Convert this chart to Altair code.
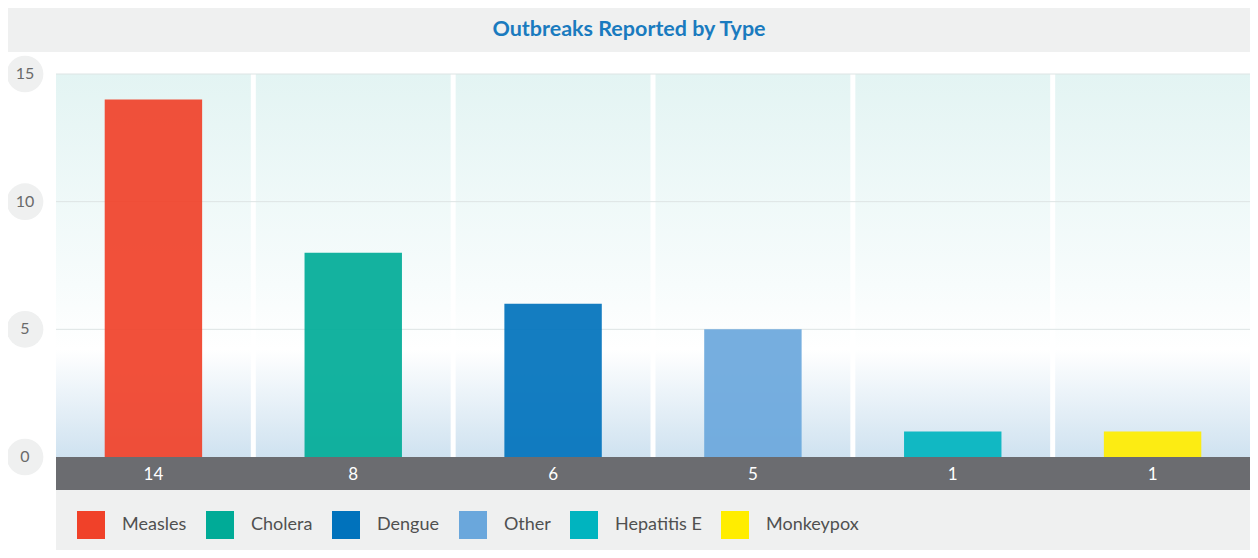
import altair as alt
import pandas as pd

# ---- data ----
categories = ["Measles", "Cholera", "Dengue", "Other", "Hepatitis E", "Monkeypox"]
counts = [14, 8, 6, 5, 1, 1]
colors = ["#f04129", "#00ab97", "#0072bc", "#6aa7dc", "#00b4bf", "#ffed00"]
y_ticks = [0, 5, 10, 15]
grid_ticks = [5, 10, 15]
chart_title = "Outbreaks Reported by Type"

W = 1194
H = 383
FONT = "Lato"

df = pd.DataFrame({"cat": categories, "value": counts})
ticks_df = pd.DataFrame({"tick": y_ticks})
grid_df = pd.DataFrame({"tick": grid_ticks})
title_df = pd.DataFrame({"t": [chart_title]})

x_enc = alt.X("cat:N", sort=categories, axis=None,
              scale=alt.Scale(paddingInner=0.025, paddingOuter=0))
y_scale = alt.Scale(domain=[0, 15], nice=False, zero=True)

base = alt.Chart(df)

# gradient backgrounds per category band
bg = base.mark_rect(
    color=alt.LinearGradient(
        gradient="linear",
        x1=0, x2=0, y1=0, y2=1,
        stops=[
            alt.GradientStop(color="#e3f4f3", offset=0),
            alt.GradientStop(color="#f7fcfc", offset=0.55),
            alt.GradientStop(color="#ffffff", offset=0.72),
            alt.GradientStop(color="#cfe2f0", offset=1),
        ],
    )
).encode(x=x_enc, y=alt.value(0), y2=alt.value(H))

# gridlines
grid = alt.Chart(grid_df).mark_rule(color="#dde4e4", strokeWidth=1).encode(
    y=alt.Y("tick:Q", scale=y_scale, axis=None),
    x=alt.value(0), x2=alt.value(W),
)

# bars
bars = base.mark_bar(width=alt.RelativeBandSize(0.5), opacity=0.92).encode(
    x=x_enc,
    y=alt.Y("value:Q", scale=y_scale, axis=None),
    color=alt.Color(
        "cat:N",
        sort=categories,
        scale=alt.Scale(domain=categories, range=colors),
        legend=alt.Legend(
            title=None,
            orient="none",
            legendX=21,
            legendY=437,
            direction="horizontal",
            symbolType="square",
            symbolSize=784,
            symbolStrokeWidth=0,
            symbolOpacity=1,
            labelFont=FONT,
            labelFontSize=18,
            labelColor="#505050",
            labelOffset=17,
            columnPadding=19,
            padding=0,
        ),
    ),
)

# dark x band
xband = alt.Chart(title_df).mark_rect(color="#6b6c70").encode(
    x=alt.value(0), x2=alt.value(W), y=alt.value(H), y2=alt.value(H + 33)
)

# x labels (values)
xlabels = base.mark_text(color="white", fontSize=17, font=FONT, baseline="middle").encode(
    x=x_enc, y=alt.value(H + 18), text="value:Q"
)

# legend band
legend_band = alt.Chart(title_df).mark_rect(color="#eff0f0").encode(
    x=alt.value(0), x2=alt.value(W), y=alt.value(H + 33), y2=alt.value(H + 93)
)

# title band + title text
title_band = alt.Chart(title_df).mark_rect(color="#eff0f0").encode(
    x=alt.value(-48), x2=alt.value(W), y=alt.value(-66), y2=alt.value(-22)
)
title_text = alt.Chart(title_df).mark_text(
    color="#1a7bbf", fontSize=21.5, fontWeight="bold", font=FONT, baseline="middle"
).encode(x=alt.value(573), y=alt.value(-44), text="t:N")

# y-axis circles and labels
circles = alt.Chart(ticks_df).mark_circle(color="#eff0f0", size=1350, opacity=1).encode(
    y=alt.Y("tick:Q", scale=y_scale, axis=None), x=alt.value(-31)
)
ylabels = alt.Chart(ticks_df).mark_text(color="#6a6a6a", fontSize=16, font=FONT, baseline="middle").encode(
    y=alt.Y("tick:Q", scale=y_scale, axis=None), x=alt.value(-31), text="tick:Q"
)

chart = alt.layer(
    title_band, title_text, bg, grid, legend_band, bars, xband, xlabels, circles, ylabels
).properties(
    width=W,
    height=H,
    autosize=alt.AutoSizeParams(type="none"),
    padding={"left": 48, "top": 66, "right": 0, "bottom": 93},
    background="white",
).configure_view(stroke="transparent")

chart.save("out.html", embed_options={"renderer": "svg", "actions": False})
